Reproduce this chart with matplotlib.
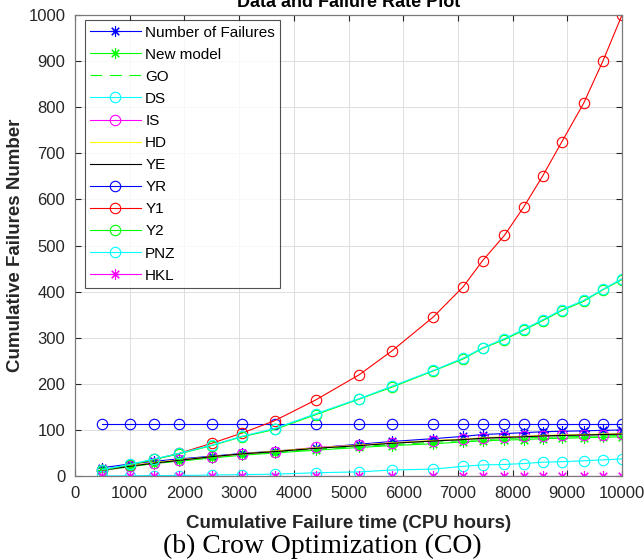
import matplotlib
matplotlib.use("Agg")
import matplotlib.pyplot as plt

# Data for plotting
t = [500, 1000, 1450, 1900, 2500, 3050, 3650, 4400, 5200, 5800,
     6550, 7100, 7450, 7850, 8200, 8550, 8900, 9300, 9650, 10000]

failures = [18, 26, 32, 37, 43, 49, 54, 61, 69, 75,
            81, 86, 90, 92, 94, 96, 97, 98, 99, 100]
new_model = [12, 20, 27, 32, 39, 45, 50, 56, 62, 66,
             70, 74, 76, 78, 79, 81, 82, 83, 84, 85]
go = [13, 21, 28, 34, 41, 47, 52, 58, 64, 68,
      73, 77, 79, 81, 83, 84, 85, 86, 87, 88]
ds = [0, 0.5, 1, 1, 2, 3, 4, 7, 9, 13,
      15, 21, 24, 25, 27, 30, 31, 33, 35, 37]
is_ = [12, 22, 29, 34, 42, 48, 53, 62, 67, 72,
       76, 80, 82, 84, 86, 87, 88, 89, 90, 91]
hd = [13, 22, 29, 35, 42, 48, 54, 61, 67, 72,
      77, 80, 83, 85, 86, 88, 89, 90, 91, 92]
ye = [13, 21, 28, 34, 42, 48, 53, 60, 66, 71,
      76, 79, 82, 84, 85, 87, 88, 89, 90, 91]
yr = [112] * 20
y1 = [13, 24, 36, 49, 71, 93, 120, 165, 220, 272,
      345, 411, 467, 522, 583, 651, 725, 809, 900, 1000]
y2 = [13, 24, 36, 48, 66, 85, 101, 133, 167, 193,
      228, 254, 277, 296, 316, 337, 359, 379, 404, 426]
pnz = [14, 25, 37, 49, 67, 86, 103, 135, 168, 195,
       229, 256, 278, 298, 318, 339, 361, 381, 405, 428]
hkl = [0] * 20

plt.rcParams['font.family'] = ['Liberation Sans', 'DejaVu Sans']
plt.rcParams['lines.scale_dashes'] = False

# matlab style pure colours
B, G, R = (0, 0, 1), (0, 1, 0), (1, 0, 0)
C, M, Y, K = (0, 1, 1), (1, 0, 1), (1, 1, 0), (0, 0, 0)
ast = (8, 2, 0)  # asterisk like matlab '*'

fig = plt.figure(figsize=(6.44, 5.6), dpi=100)
ax = fig.add_axes([0.1165, 0.15, 0.8493, 0.823])

lw = 0.8
ms = 7.5
ax.plot(t, failures, '-', marker=ast, color=B, lw=lw, ms=ms, mew=0.8, label='Number of Failures')
ax.plot(t, new_model, '-', marker=ast, color=G, lw=lw, ms=ms, mew=0.8, label='New model')
ax.plot(t, go, '--', color=G, lw=lw, dashes=(8.5, 5.5), label='GO')
ax.plot(t, ds, '-o', color=C, lw=lw, ms=ms, mfc='none', mew=0.8, label='DS')
ax.plot(t, is_, '-o', color=M, lw=lw, ms=ms, mfc='none', mew=0.8, label='IS')
ax.plot(t, hd, '-', color=Y, lw=lw, label='HD')
ax.plot(t, ye, '-', color=K, lw=lw, label='YE')
ax.plot(t, yr, '-o', color=B, lw=lw, ms=ms, mfc='none', mew=0.8, label='YR')
ax.plot(t, y1, '-o', color=R, lw=lw, ms=ms, mfc='none', mew=0.8, label='Y1')
ax.plot(t, y2, '-o', color=G, lw=lw, ms=ms, mfc='none', mew=0.8, label='Y2')
ax.plot(t, pnz, '-o', color=C, lw=lw, ms=ms, mfc='none', mew=0.8, label='PNZ')
ax.plot(t, hkl, '-', marker=ast, color=M, lw=lw, ms=ms, mew=0.8, label='HKL')

ax.set_xlim(0, 10000)
ax.set_ylim(0, 1000)
ax.set_xticks(range(0, 10001, 1000))
ax.set_yticks(range(0, 1001, 100))
ax.tick_params(direction='in', top=True, right=True, length=4,
               labelsize=12, colors='#262626', pad=7)
for s in ax.spines.values():
    s.set_color('#7a7a7a')
    s.set_linewidth(0.9)
ax.grid(True, color='#dedede', linewidth=0.7)
ax.set_axisbelow(True)

ax.set_title('Data and Failure Rate Plot', fontsize=13, fontweight='bold', pad=6)
ax.set_xlabel('Cumulative Failure time (CPU hours)', fontsize=13.5,
              fontweight='bold', color='#262626', labelpad=10)
ax.set_ylabel('Cumulative Failures Number', fontsize=13.5,
              fontweight='bold', color='#262626', labelpad=3)

leg = ax.legend(loc='upper left', bbox_to_anchor=(0.018, 0.989), borderaxespad=0,
                fontsize=11, handlelength=3.3, handletextpad=0.3,
                labelspacing=0.53, frameon=True, fancybox=False, borderpad=0.35)
leg.get_frame().set_edgecolor('#262626')
leg.get_frame().set_linewidth(0.8)

fig.text(0.5, 0.024, '(b) Crow Optimization (CO)', family='Liberation Serif',
         fontsize=20, ha='center', va='center')

fig.savefig('out.png', dpi=100)
